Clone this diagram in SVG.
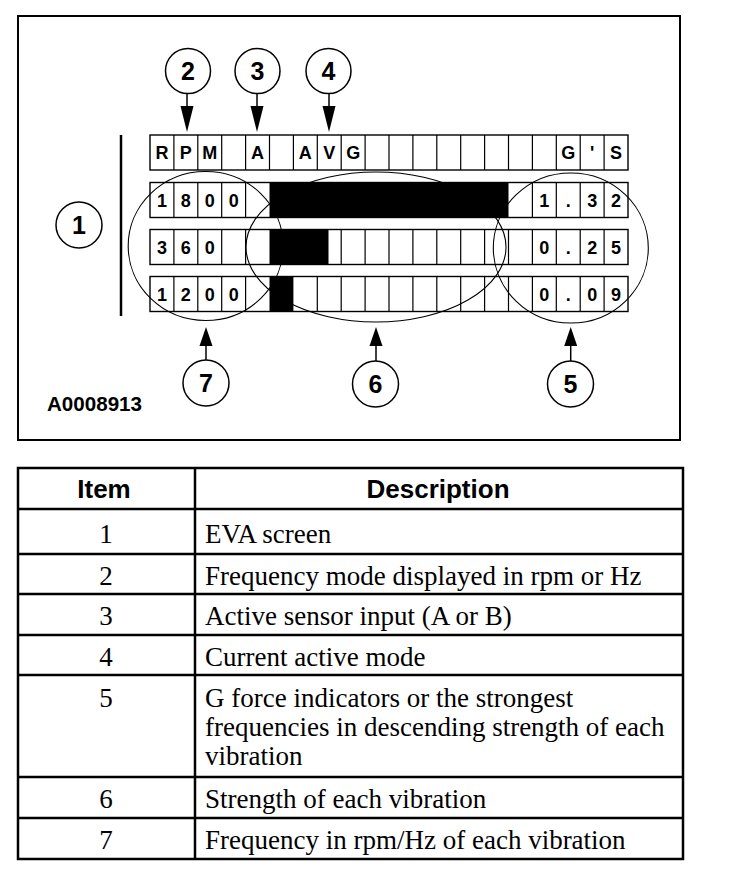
<svg xmlns="http://www.w3.org/2000/svg" width="736" height="876" viewBox="0 0 736 876">
<style>
.bg{fill:#fff}
.frame{fill:none;stroke:#000;stroke-width:2}
.cellrow{fill:#fff;stroke:#000;stroke-width:1.4}
.grid{fill:none;stroke:#000;stroke-width:1.2}
.bar{fill:#000}
.ell{fill:none;stroke:#000;stroke-width:1.1}
.circ{fill:#fff;stroke:#000;stroke-width:1.5}
.cnum{font-family:"Liberation Sans",Arial,sans-serif;font-weight:bold;font-size:25px;text-anchor:middle;fill:#000}
.ct{font-family:"Liberation Sans",Arial,sans-serif;font-weight:bold;font-size:18px;text-anchor:middle;fill:#000}
.tbl{fill:none;stroke:#000;stroke-width:2.5}
.th{font-family:"Liberation Sans",Arial,sans-serif;font-weight:bold;font-size:26px;text-anchor:middle;fill:#000}
.tn{font-family:"Liberation Serif","Times New Roman",serif;font-size:27px;text-anchor:middle;fill:#000}
.td{font-family:"Liberation Serif","Times New Roman",serif;font-size:27px;fill:#000}
.lead{stroke:#000;stroke-width:1.5;fill:none}
.head{fill:#000}
</style>
<rect class="bg" x="0" y="0" width="736" height="876"/>
<rect class="frame" x="18" y="16" width="662" height="424"/>

<g id="screen">
  <line x1="121" y1="135" x2="121" y2="316" stroke="#000" stroke-width="2.5"/>
  <!-- row 1 -->
  <rect class="cellrow" x="150" y="135" width="478" height="35"/>
  <path class="grid" d="M173.9 135V170M197.8 135V170M221.7 135V170M245.6 135V170M269.5 135V170M293.4 135V170M317.3 135V170M341.2 135V170M365.1 135V170M389 135V170M412.9 135V170M436.8 135V170M460.7 135V170M484.6 135V170M508.5 135V170M532.4 135V170M556.3 135V170M580.2 135V170M604.1 135V170"/>
  <!-- row 2 -->
  <rect class="cellrow" x="150" y="182.5" width="478" height="35"/>
  <path class="grid" d="M173.9 182.5V217.5M197.8 182.5V217.5M221.7 182.5V217.5M245.6 182.5V217.5M532.4 182.5V217.5M556.3 182.5V217.5M580.2 182.5V217.5M604.1 182.5V217.5"/>
  <!-- row 3 -->
  <rect class="cellrow" x="150" y="229.5" width="478" height="35"/>
  <path class="grid" d="M173.9 229.5V264.5M197.8 229.5V264.5M221.7 229.5V264.5M245.6 229.5V264.5M341.2 229.5V264.5M365.1 229.5V264.5M389 229.5V264.5M412.9 229.5V264.5M436.8 229.5V264.5M460.7 229.5V264.5M484.6 229.5V264.5M508.5 229.5V264.5M532.4 229.5V264.5M556.3 229.5V264.5M580.2 229.5V264.5M604.1 229.5V264.5"/>
  <!-- row 4 -->
  <rect class="cellrow" x="150" y="276.5" width="478" height="35"/>
  <path class="grid" d="M173.9 276.5V311.5M197.8 276.5V311.5M221.7 276.5V311.5M245.6 276.5V311.5M317.3 276.5V311.5M341.2 276.5V311.5M365.1 276.5V311.5M389 276.5V311.5M412.9 276.5V311.5M436.8 276.5V311.5M460.7 276.5V311.5M484.6 276.5V311.5M508.5 276.5V311.5M532.4 276.5V311.5M556.3 276.5V311.5M580.2 276.5V311.5M604.1 276.5V311.5"/>

  <!-- ellipses -->
  <ellipse class="ell" cx="205.7" cy="246" rx="77.5" ry="74.5"/>
  <ellipse class="ell" cx="376" cy="247" rx="130" ry="75"/>
  <ellipse class="ell" cx="570.8" cy="248" rx="77.5" ry="75"/>

  <!-- bars -->
  <rect class="bar" x="269.5" y="182.5" width="239" height="35"/>
  <rect class="bar" x="269.5" y="229.5" width="59" height="35"/>
  <rect class="bar" x="269.5" y="276.5" width="23.9" height="35"/>

  <!-- row texts -->
  <text class="ct" x="161.95" y="159">R</text>
  <text class="ct" x="185.85" y="159">P</text>
  <text class="ct" x="209.75" y="159">M</text>
  <text class="ct" x="257.55" y="159">A</text>
  <text class="ct" x="305.35" y="159">A</text>
  <text class="ct" x="329.25" y="159">V</text>
  <text class="ct" x="353.15" y="159">G</text>
  <text class="ct" x="568.25" y="159">G</text>
  <text class="ct" x="592.15" y="159">'</text>
  <text class="ct" x="616.05" y="159">S</text>

  <text class="ct" x="161.95" y="206.5">1</text>
  <text class="ct" x="185.85" y="206.5">8</text>
  <text class="ct" x="209.75" y="206.5">0</text>
  <text class="ct" x="233.65" y="206.5">0</text>
  <text class="ct" x="544.35" y="206.5">1</text>
  <text class="ct" x="568.25" y="206.5">.</text>
  <text class="ct" x="592.15" y="206.5">3</text>
  <text class="ct" x="616.05" y="206.5">2</text>

  <text class="ct" x="161.95" y="253.5">3</text>
  <text class="ct" x="185.85" y="253.5">6</text>
  <text class="ct" x="209.75" y="253.5">0</text>
  <text class="ct" x="544.35" y="253.5">0</text>
  <text class="ct" x="568.25" y="253.5">.</text>
  <text class="ct" x="592.15" y="253.5">2</text>
  <text class="ct" x="616.05" y="253.5">5</text>

  <text class="ct" x="161.95" y="300.5">1</text>
  <text class="ct" x="185.85" y="300.5">2</text>
  <text class="ct" x="209.75" y="300.5">0</text>
  <text class="ct" x="233.65" y="300.5">0</text>
  <text class="ct" x="544.35" y="300.5">0</text>
  <text class="ct" x="568.25" y="300.5">.</text>
  <text class="ct" x="592.15" y="300.5">0</text>
  <text class="ct" x="616.05" y="300.5">9</text>
</g>

<g id="connectors">
  <line class="lead" x1="187" y1="93.5" x2="187" y2="106"/>
  <polygon class="head" points="180.5,106 193.5,106 187,132"/>
  <line class="lead" x1="257" y1="93.5" x2="257" y2="106"/>
  <polygon class="head" points="250.5,106 263.5,106 257,132"/>
  <line class="lead" x1="329" y1="93.5" x2="329" y2="106"/>
  <polygon class="head" points="322.5,106 335.5,106 329,132"/>
  <line class="lead" x1="206" y1="360" x2="206" y2="345"/>
  <polygon class="head" points="199.5,346 212.5,346 206,327"/>
  <line class="lead" x1="376" y1="361" x2="376" y2="345"/>
  <polygon class="head" points="369.5,346 382.5,346 376,327"/>
  <line class="lead" x1="570.7" y1="361" x2="570.7" y2="345"/>
  <polygon class="head" points="564.2,346 577.2,346 570.7,327"/>
</g>

<g id="n1"><circle class="circ" cx="79" cy="225" r="23"/><text class="cnum" x="79" y="234">1</text></g>
<g id="n2"><circle class="circ" cx="188" cy="71" r="22.5"/><text class="cnum" x="188" y="80">2</text></g>
<g id="n3"><circle class="circ" cx="257.5" cy="71" r="22.5"/><text class="cnum" x="257.5" y="80">3</text></g>
<g id="n4"><circle class="circ" cx="328.5" cy="71" r="22.5"/><text class="cnum" x="328.5" y="80">4</text></g>
<g id="n7"><circle class="circ" cx="206" cy="383" r="23"/><text class="cnum" x="206" y="392">7</text></g>
<g id="n6"><circle class="circ" cx="375.5" cy="384" r="23"/><text class="cnum" x="375.5" y="393">6</text></g>
<g id="n5"><circle class="circ" cx="570.5" cy="384" r="23"/><text class="cnum" x="570.5" y="393">5</text></g>

<text x="47" y="411" font-family="Liberation Sans, Arial, sans-serif" font-weight="bold" font-size="19.5" textLength="95" lengthAdjust="spacingAndGlyphs">A0008913</text>

<g id="table">
  <rect class="tbl" x="18" y="468" width="665" height="391"/>
  <path class="tbl" d="M195 468V859M18 509H683M18 554H683M18 594H683M18 635H683M18 675H683M18 777H683M18 818H683"/>
  <text class="th" x="104" y="498">Item</text>
  <text class="th" x="438" y="498">Description</text>
  <text class="tn" x="106" y="543">1</text>
  <text class="td" x="205" y="543">EVA screen</text>
  <text class="tn" x="106" y="585">2</text>
  <text class="td" x="205" y="585">Frequency mode displayed in rpm or Hz</text>
  <text class="tn" x="106" y="625">3</text>
  <text class="td" x="205" y="625">Active sensor input (A or B)</text>
  <text class="tn" x="106" y="666">4</text>
  <text class="td" x="205" y="666">Current active mode</text>
  <text class="tn" x="106" y="707">5</text>
  <text class="td" x="205" y="707">G force indicators or the strongest</text>
  <text class="td" x="205" y="736">frequencies in descending strength of each</text>
  <text class="td" x="205" y="765">vibration</text>
  <text class="tn" x="106" y="808">6</text>
  <text class="td" x="205" y="808">Strength of each vibration</text>
  <text class="tn" x="106" y="849">7</text>
  <text class="td" x="205" y="849">Frequency in rpm/Hz of each vibration</text>
</g>
</svg>
